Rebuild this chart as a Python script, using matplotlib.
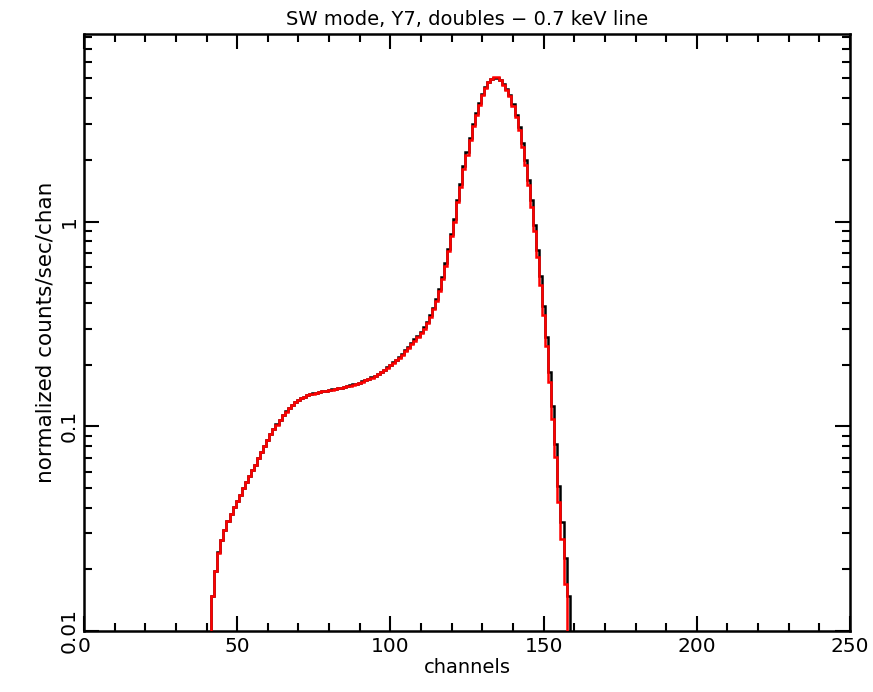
import matplotlib
matplotlib.use('Agg')
import matplotlib.pyplot as plt
import numpy as np
from matplotlib.ticker import FixedLocator, NullFormatter

plt.rcParams['font.family'] = ['DejaVu Sans']

# Channel ranges of the two histograms
model_channels = np.arange(42, 158)   # 42..157
data_channels = np.arange(42, 159)    # 42..158

# Model (red), normalized counts/sec/chan
model_rate = [
    0.0148, 0.0196, 0.024, 0.0278, 0.0311, 0.0344, 0.0372, 0.0403,          # 42-49
    0.0432, 0.0462, 0.0499, 0.0533, 0.057, 0.061, 0.0648, 0.0698, 0.0747, 0.0802,  # 50-59
    0.0855, 0.0914, 0.0967, 0.102, 0.107, 0.1135, 0.118, 0.1225, 0.127, 0.131,    # 60-69
    0.1345, 0.1375, 0.1395, 0.1415, 0.143, 0.1445, 0.146, 0.147, 0.148, 0.149,    # 70-79
    0.150, 0.151, 0.152, 0.153, 0.154, 0.155, 0.1565, 0.158, 0.1595, 0.161,       # 80-89
    0.1628, 0.165, 0.1675, 0.170, 0.1728, 0.176, 0.1795, 0.1835, 0.188, 0.193,    # 90-99
    0.1985, 0.204, 0.21, 0.216, 0.224, 0.233, 0.242, 0.251, 0.262, 0.273,         # 100-109
    0.285, 0.300, 0.318, 0.342, 0.372, 0.41, 0.46, 0.525, 0.61, 0.715,            # 110-119
    0.848, 1.0, 1.24, 1.48, 1.8, 2.12, 2.5, 2.92, 3.33, 3.72,                     # 120-129
    4.17, 4.5, 4.78, 4.97, 5.1, 5.1, 4.9, 4.66, 4.4, 4.09,                        # 130-139
    3.65, 3.24, 2.79, 2.31, 1.9, 1.51, 1.18, 0.897, 0.673, 0.488,                 # 140-149
    0.348, 0.246, 0.164, 0.109, 0.0711, 0.0427, 0.0281, 0.0169,                   # 150-157
]

# Data (black)
data_rate = [
    0.0149, 0.0197, 0.0242, 0.0279, 0.0312, 0.0345, 0.0374, 0.0404,          # 42-49
    0.0433, 0.0464, 0.05, 0.0535, 0.0572, 0.0612, 0.065, 0.07, 0.0749, 0.0804,    # 50-59
    0.0857, 0.0916, 0.0969, 0.1022, 0.1072, 0.1137, 0.1182, 0.1227, 0.1272, 0.1312,  # 60-69
    0.1347, 0.1377, 0.1397, 0.1417, 0.1432, 0.1447, 0.1462, 0.1472, 0.1482, 0.1493,  # 70-79
    0.1503, 0.1513, 0.1523, 0.1534, 0.1544, 0.1554, 0.157, 0.1585, 0.16, 0.1616,     # 80-89
    0.1634, 0.1657, 0.1682, 0.1708, 0.1737, 0.177, 0.1806, 0.1847, 0.1893, 0.1944,   # 90-99
    0.2, 0.2057, 0.2118, 0.218, 0.2262, 0.2354, 0.2448, 0.2542, 0.2655, 0.277,       # 100-109
    0.2895, 0.305, 0.322, 0.348, 0.38, 0.42, 0.47, 0.538, 0.625, 0.735,              # 110-119
    0.87, 1.03, 1.28, 1.53, 1.86, 2.18, 2.57, 2.99, 3.4, 3.78,                       # 120-129
    4.2, 4.52, 4.78, 4.95, 5.04, 5.04, 4.9, 4.7, 4.46, 4.16,                         # 130-139
    3.74, 3.32, 2.9, 2.42, 2.0, 1.6, 1.27, 0.96, 0.73, 0.54,                         # 140-149
    0.385, 0.272, 0.185, 0.125, 0.082, 0.051, 0.034, 0.0226, 0.0149,                 # 150-158
]

x_ticks = [0, 50, 100, 150, 200, 250]
y_ticks = [0.01, 0.1, 1]
y_tick_labels = ['0.01', '0.1', '1']

fig = plt.figure(figsize=(8.73, 6.92), dpi=100)
ax = fig.add_axes([0.0962, 0.0882, 0.8775, 0.8627])

model_edges = np.append(model_channels - 0.5, model_channels[-1] + 0.5)
data_edges = np.append(data_channels - 0.5, data_channels[-1] + 0.5)

# bins are drawn down to the floor at both ends, like the original
ax.stairs(data_rate, data_edges, baseline=1e-3, color='black', lw=1.8, zorder=2)
ax.stairs(model_rate, model_edges, baseline=1e-3, color='#ff0000', lw=1.8, zorder=3)

ax.set_yscale('log')
ax.set_xlim(0, 250)
ax.set_ylim(0.01, 8.25)

ax.set_xticks(x_ticks)
ax.set_xticklabels([str(t) for t in x_ticks])
ax.xaxis.set_minor_locator(FixedLocator(np.arange(0, 251, 10)))
ax.yaxis.set_major_locator(FixedLocator(y_ticks))
ax.set_yticklabels(y_tick_labels, rotation=90, va='center')
minor_y = [m * d for d in (0.01, 0.1, 1) for m in range(2, 10)]
ax.yaxis.set_minor_locator(FixedLocator(minor_y))
ax.yaxis.set_minor_formatter(NullFormatter())

ax.tick_params(which='both', direction='in', top=True, right=True, width=1.5, colors='black')
ax.tick_params(which='major', length=11, labelsize=14.5, pad=4)
ax.tick_params(which='minor', length=6)
for s in ax.spines.values():
    s.set_linewidth(1.8)

ax.set_xlabel('channels', fontsize=14, labelpad=2)
ax.set_ylabel('normalized counts/sec/chan', fontsize=15.5, labelpad=3)
fig.suptitle('SW mode, Y7, doubles \u2212 0.7 keV line', fontsize=14, x=0.535, y=0.985)

fig.savefig('out.png', dpi=100)
